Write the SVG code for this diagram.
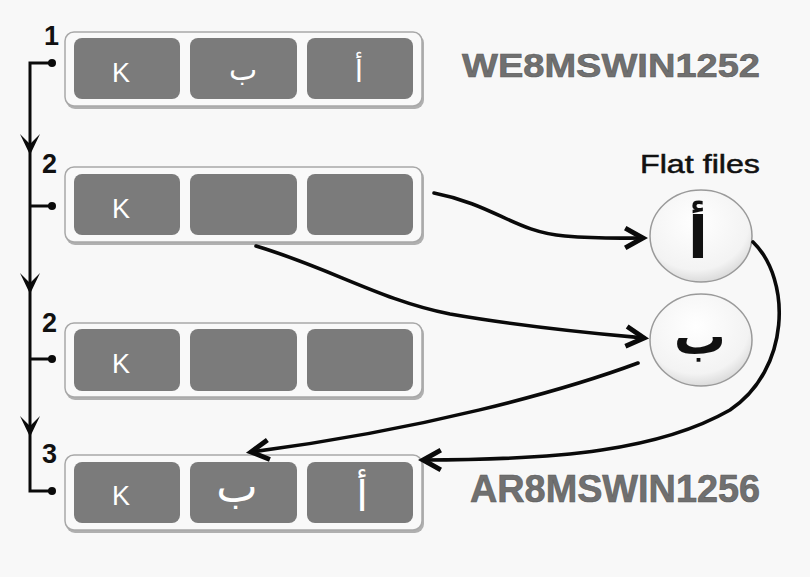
<svg xmlns="http://www.w3.org/2000/svg" width="810" height="577" viewBox="0 0 810 577">
<style>
.outer{fill:#f9f9f9;stroke:#a8a8a8;stroke-width:1.5}
.shadow{fill:#b0b0b0}
.cell{fill:#7b7b7b}
.k{font-family:"Liberation Sans",Arial,sans-serif;font-size:27px;fill:#ffffff;text-anchor:middle}
.ar{font-family:"DejaVu Sans",sans-serif;fill:#ffffff;text-anchor:middle}
.num{font-family:"Liberation Sans",Arial,sans-serif;font-size:27px;font-weight:bold;fill:#111;}
.cs{font-family:"Liberation Sans",Arial,sans-serif;font-weight:bold;fill:#707070;stroke:#5a5a5a;stroke-width:0.6}
.conn{fill:none;stroke:#0a0a0a;stroke-width:3.6;stroke-linecap:round}
.br{fill:none;stroke:#0a0a0a;stroke-width:3}
.circ{fill:url(#cg);stroke:#9a9a9a;stroke-width:1.5}
.carab{font-family:"DejaVu Sans",sans-serif;fill:#111;text-anchor:middle}
</style>
<defs>
<radialGradient id="cg" cx="0.45" cy="0.35" r="0.72">
<stop offset="0" stop-color="#ffffff"/>
<stop offset="0.72" stop-color="#f3f3f3"/>
<stop offset="1" stop-color="#cfcfcf"/>
</radialGradient>
<marker id="ah" markerUnits="userSpaceOnUse" markerWidth="26" markerHeight="26" refX="15" refY="9" orient="auto" viewBox="0 0 19 18">
<path d="M2,1.8 L15,9 L2,16.2" fill="none" stroke="#0a0a0a" stroke-width="3.6" stroke-linejoin="miter"/>
</marker>
</defs>
<rect width="810" height="577" fill="#f8f8f8"/>

<g id="row1">
<rect class="shadow" x="66" y="34" width="358" height="75" rx="9"/>
<rect class="outer" x="65" y="32" width="357" height="74" rx="9"/>
<rect class="cell" x="74" y="38" width="106" height="61" rx="8"/>
<rect class="cell" x="190" y="38" width="107" height="61" rx="8"/>
<rect class="cell" x="307" y="38" width="106" height="61" rx="8"/>
<text class="k" x="121" y="82">K</text>
<text class="ar" x="243" y="80" font-size="30">ب</text>
<text class="ar" x="359" y="82" font-size="30">أ</text>
</g>

<g id="row2">
<rect class="shadow" x="66" y="169" width="358" height="76" rx="9"/>
<rect class="outer" x="65" y="167" width="357" height="75" rx="9"/>
<rect class="cell" x="74" y="174" width="106" height="61" rx="8"/>
<rect class="cell" x="190" y="174" width="107" height="61" rx="8"/>
<rect class="cell" x="307" y="174" width="106" height="61" rx="8"/>
<text class="k" x="121" y="218">K</text>
</g>

<g id="row3">
<rect class="shadow" x="66" y="325" width="358" height="75" rx="9"/>
<rect class="outer" x="65" y="323" width="357" height="74" rx="9"/>
<rect class="cell" x="74" y="329" width="106" height="62" rx="8"/>
<rect class="cell" x="190" y="329" width="107" height="62" rx="8"/>
<rect class="cell" x="307" y="329" width="106" height="62" rx="8"/>
<text class="k" x="121" y="373">K</text>
</g>

<g id="row4">
<rect class="shadow" x="66" y="457" width="358" height="76" rx="9"/>
<rect class="outer" x="65" y="455" width="357" height="75" rx="9"/>
<rect class="cell" x="74" y="462" width="106" height="61" rx="8"/>
<rect class="cell" x="190" y="462" width="107" height="61" rx="8"/>
<rect class="cell" x="307" y="462" width="106" height="61" rx="8"/>
<text class="k" x="121" y="505">K</text>
<text class="ar" x="237" y="502" font-size="44">ب</text>
<text class="ar" x="362" y="511" font-size="42">أ</text>
</g>

<g id="labels">
<text class="num" x="44" y="45" font-size="23">1</text>
<text class="num" x="42" y="173">2</text>
<text class="num" x="42" y="332">2</text>
<text class="num" x="42" y="463">3</text>
<text class="cs" x="462" y="77" font-size="34" textLength="298" lengthAdjust="spacingAndGlyphs">WE8MSWIN1252</text>
<text class="cs" x="470" y="502" font-size="38" textLength="290" lengthAdjust="spacingAndGlyphs">AR8MSWIN1256</text>
<text x="700" y="173" font-family="Liberation Sans,Arial,sans-serif" font-size="25" fill="#111" stroke="#111" stroke-width="0.5" text-anchor="middle" textLength="120" lengthAdjust="spacingAndGlyphs">Flat files</text>
</g>

<g id="file-alef">
<ellipse class="circ" cx="701" cy="236" rx="51" ry="46"/>
<text class="carab" x="698" y="258" font-size="58" font-weight="bold">أ</text>
</g>

<g id="file-beh">
<ellipse class="circ" cx="701" cy="340" rx="51" ry="46"/>
<text class="carab" x="700" y="354" font-size="52" font-weight="bold">ب</text>
</g>

<g id="connectors">
<path class="br" d="M52,63 H30 V491 H52"/>
<path class="br" d="M30,206 H52 M30,359 H52"/>
<circle cx="52" cy="63" r="4" fill="#0a0a0a"/>
<circle cx="52" cy="206" r="4" fill="#0a0a0a"/>
<circle cx="52" cy="359" r="4" fill="#0a0a0a"/>
<circle cx="52" cy="491" r="4" fill="#0a0a0a"/>
<path d="M20,134 L30,155 L40,134 L30,144 Z" fill="#0a0a0a"/>
<path d="M20,273 L30,294 L40,273 L30,283 Z" fill="#0a0a0a"/>
<path d="M20,416 L30,437 L40,416 L30,426 Z" fill="#0a0a0a"/>
<path class="conn" marker-end="url(#ah)" d="M434,193 C495,205 515,232 565,236 C600,239 620,238 643,238"/>
<path class="conn" marker-end="url(#ah)" d="M256,246 C330,268 380,300 450,314 C530,328 600,334 644,338"/>
<path class="conn" marker-end="url(#ah)" d="M638,363 C560,392 420,430 251,452"/>
<path class="conn" marker-end="url(#ah)" d="M753,242 C792,280 790,370 730,410 C660,450 560,460 423,460"/>
</g>
</svg>
